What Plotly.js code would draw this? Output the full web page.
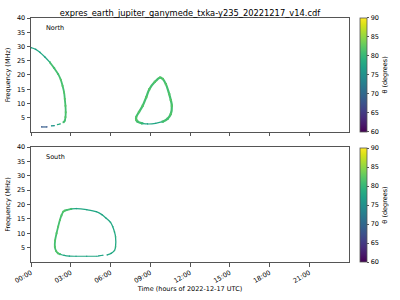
<!DOCTYPE html>
<html><head><meta charset="utf-8">
<script src="https://cdn.plot.ly/plotly-3.0.1.min.js"></script>
<style>html,body{margin:0;padding:0;background:#fff}#c{width:400px;height:300px}</style>
</head><body><div id="c"></div>
<script>
// North arc 1, upper part (hours, MHz, theta deg)
const nA1_t = [0.0, 0.35, 0.68, 1.05, 1.43];
const nA1_f = [29.6, 29.0, 27.9, 26.3, 24.4];
const nA1_th = [76, 76, 77, 77, 78];
// North arc 1, lower part
const nA2_t = [1.43, 1.75, 2.05, 2.25, 2.38, 2.50, 2.55, 2.60, 2.62, 2.60, 2.55, 2.45];
const nA2_f = [24.4, 22.4, 20.3, 18.3, 16.2, 13.8, 11.6, 9.2, 6.9, 5.2, 4.0, 3.4];
const nA2_th = [81, 81, 81, 82, 82, 82, 82, 82, 82, 82, 81, 81];
// North fragments near bottom
const nB_t = [2.2, 2.0];
const nB_f = [2.8, 2.6];
const nB_th = [79, 79];
const nC_t = [1.55, 1.75];
const nC_f = [2.15, 2.25];
const nC_th = [76, 76];
const nD_t = [0.8, 1.2];
const nD_f = [1.75, 1.75];
const nD_th = [68, 68];
// North loop, sides
const nL_t = [8.40, 8.05, 7.95, 7.93, 8.15, 8.43, 8.70, 8.93, 9.35, 9.75, 9.95, 10.18, 10.43, 10.55, 10.63, 10.55, 10.30, 9.93];
const nL_f = [3.0, 3.6, 4.2, 5.1, 7.0, 9.2, 12.2, 15.0, 17.6, 19.1, 18.6, 16.8, 13.3, 11.2, 9.2, 6.3, 4.6, 3.6];
const nL_th = [80, 81, 82, 82, 82, 82, 82, 82, 82, 82, 82, 82, 82, 82, 82, 82, 81, 81];
// North loop, bottom
const nLb_t = [8.40, 8.80, 9.40, 9.93];
const nLb_f = [3.0, 2.8, 3.0, 3.6];
const nLb_th = [77, 77, 77, 77];
// South loop, top and right
const sL_t = [3.05, 3.43, 4.20, 4.93, 5.35, 5.68, 6.00, 6.17, 6.30, 6.38, 6.38, 6.30, 6.05, 5.75];
const sL_f = [18.5, 18.6, 18.2, 17.5, 16.5, 15.2, 13.8, 12.3, 10.5, 8.8, 5.3, 4.0, 3.0, 2.5];
const sL_th = [77, 77, 77, 77, 77, 77, 78, 78, 79, 80, 80, 79, 78, 77];
const sB_t = [5.43, 5.10];
const sB_f = [2.35, 2.1];
const sB_th = [77, 77];
// South loop, bottom
const sC_t = [5.0, 4.2, 3.4, 2.9, 2.5, 2.20];
const sC_f = [2.0, 2.0, 2.0, 2.05, 2.3, 2.7];
const sC_th = [77, 77, 77, 77, 78, 79];
// South loop, left side
const sD_t = [2.20, 2.05, 1.90, 1.80, 1.82, 1.93, 2.05, 2.18, 2.30, 2.43, 2.55, 2.68, 3.05];
const sD_f = [2.7, 3.0, 3.8, 5.3, 7.5, 10.0, 12.3, 14.6, 16.2, 17.5, 17.9, 18.05, 18.5];
const sD_th = [81, 82, 82, 82, 82, 82, 82, 82, 82, 82, 82, 81, 81];

const tickHours = [0, 3, 6, 9, 12, 15, 18, 21];
const tickText = ["00:00", "03:00", "06:00", "09:00", "12:00", "15:00", "18:00", "21:00"];
const yTicks = [5, 10, 15, 20, 25, 30, 35, 40];
const cbTicks = [60, 65, 70, 75, 80, 85, 90];

const vir = [[0,'#440154'],[0.1,'#482475'],[0.2,'#414487'],[0.3,'#355f8d'],[0.4,'#2a788e'],[0.5,'#21918c'],[0.6,'#22a884'],[0.7,'#44bf70'],[0.8,'#7ad151'],[0.9,'#bddf26'],[1,'#fde725']];
function vcol(th){ const v=(th-60)/30; let best=vir[0]; for(const s of vir){ if(Math.abs(s[0]-v)<Math.abs(best[0]-v)) best=s;} return best[1]; }
function tr(t, f, th, xa, ya, ca, w) {
  return {
    x: t, y: f, xaxis: xa, yaxis: ya, type: 'scatter', mode: 'lines+markers',
    line: {color: vcol(th[Math.floor(th.length/2)]), width: w, shape: 'spline'},
    marker: {color: th, coloraxis: ca, size: w, symbol: 'square'},
    hoverinfo: 'skip', showlegend: false
  };
}
const data = [
  tr(nA1_t, nA1_f, nA1_th, 'x', 'y', 'coloraxis', 1.3),
  tr(nA2_t, nA2_f, nA2_th, 'x', 'y', 'coloraxis', 1.8),
  tr(nB_t, nB_f, nB_th, 'x', 'y', 'coloraxis', 1.2),
  tr(nC_t, nC_f, nC_th, 'x', 'y', 'coloraxis', 1.2),
  tr(nD_t, nD_f, nD_th, 'x', 'y', 'coloraxis', 1.2),
  tr(nLb_t, nLb_f, nLb_th, 'x', 'y', 'coloraxis', 1.2),
  tr(nL_t, nL_f, nL_th, 'x', 'y', 'coloraxis', 2.2),
  tr(sL_t, sL_f, sL_th, 'x2', 'y2', 'coloraxis2', 1.3),
  tr(sB_t, sB_f, sB_th, 'x2', 'y2', 'coloraxis2', 1.2),
  tr(sC_t, sC_f, sC_th, 'x2', 'y2', 'coloraxis2', 1.2),
  tr(sD_t, sD_f, sD_th, 'x2', 'y2', 'coloraxis2', 1.8)
];

const axFont = {family: 'DejaVu Sans', size: 6.5, color: '#000'};
const xBase = {range: [0, 24], tickvals: tickHours, showline: true, mirror: true, linecolor: '#555', linewidth: 1,
  ticks: 'outside', ticklen: 3.5, tickcolor: '#555', showgrid: false, zeroline: false, tickfont: axFont};
const yBase = {range: [0, 40], tickvals: yTicks, showline: true, mirror: true, linecolor: '#555', linewidth: 1,
  ticks: 'outside', ticklen: 3.5, tickcolor: '#555', showgrid: false, zeroline: false, tickfont: axFont,
  title: {text: 'Frequency (MHz)', font: {family: 'DejaVu Sans', size: 6.5, color: '#000'}, standoff: 5}};
function cb(y){
  return {cmin: 60, cmax: 90, colorscale: 'Viridis', colorbar: {
    x: 1.031, xanchor: 'left', xref: 'paper', y: y, yanchor: 'bottom', len: 0.467, lenmode: 'fraction',
    thickness: 7, thicknessmode: 'pixels', outlinewidth: 0.8, outlinecolor: '#555',
    tickvals: cbTicks, ticks: 'outside', ticklen: 2.5, tickcolor: '#555', tickfont: axFont,
    title: {text: 'θ (degrees)', side: 'right', font: {family: 'DejaVu Sans', size: 6.5, color: '#000'}},
    xpad: 0, ypad: 0}};
}
const layout = {
  width: 400, height: 300, paper_bgcolor: '#fff', plot_bgcolor: '#fff',
  margin: {l: 31, r: 50, t: 18, b: 38},
  font: {family: 'DejaVu Sans', color: '#000'},
  title: {text: 'expres_earth_jupiter_ganymede_txka-y235_20221217_v14.cdf', font: {family: 'DejaVu Sans', size: 8.3, color: '#000'},
    x: 0.5, xref: 'paper', xanchor: 'center', y: 0.965, yref: 'container'},
  xaxis: Object.assign({}, xBase, {domain: [0, 1], anchor: 'y', showticklabels: false}),
  yaxis: Object.assign({}, yBase, {domain: [0.533, 1], anchor: 'x'}),
  xaxis2: Object.assign({}, xBase, {domain: [0, 1], anchor: 'y2', ticktext: tickText, tickangle: -30,
    title: {text: 'Time (hours of 2022-12-17 UTC)', font: {family: 'DejaVu Sans', size: 6.5, color: '#000'}, standoff: 2}}),
  yaxis2: Object.assign({}, yBase, {domain: [0, 0.471], anchor: 'x2'}),
  coloraxis: cb(0.533),
  coloraxis2: cb(0),
  annotations: [
    {text: 'North', xref: 'x', yref: 'y', x: 1.0, y: 36.5, showarrow: false, xanchor: 'left', font: {family: 'DejaVu Sans', size: 6.5, color: '#000'}},
    {text: 'South', xref: 'x2', yref: 'y2', x: 1.0, y: 36.5, showarrow: false, xanchor: 'left', font: {family: 'DejaVu Sans', size: 6.5, color: '#000'}}
  ]
};
Plotly.newPlot('c', data, layout, {staticPlot: true});
</script></body></html>
